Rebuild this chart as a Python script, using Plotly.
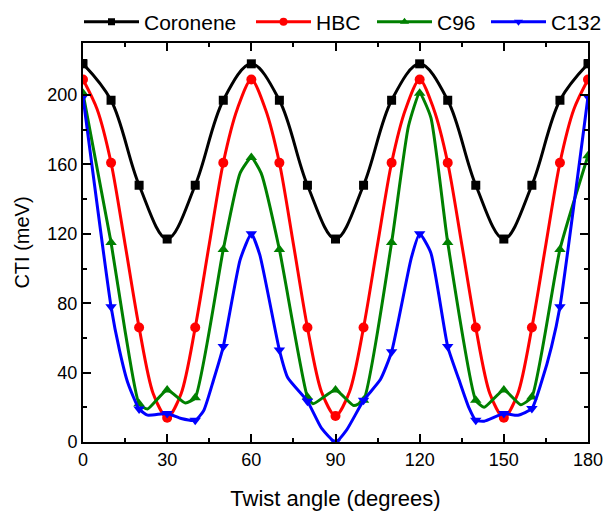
import plotly.graph_objects as go

# ---- data ----
cor_x = list(range(0, 181, 10))
cor_y = [218, 197, 148, 117, 148, 197, 218, 197, 148, 117, 148, 197, 218, 197, 148, 117, 148, 197, 218]

hbc_x = [0, 5, 10, 15, 20, 25, 30, 35, 40, 45, 50, 55, 60, 65, 70, 75, 80, 85, 90,
         95, 100, 105, 110, 115, 120, 125, 130, 135, 140, 145, 150, 155, 160, 165, 170, 175, 180]
hbc_y = [209, 192, 161, 114, 66, 28, 14, 28, 66, 114, 161, 192, 209, 192, 161, 114, 66, 29, 15,
         29, 66, 114, 161, 192, 209, 192, 161, 114, 66, 28, 14, 28, 66, 114, 161, 192, 209]

c96_x = [0, 10, 15, 20, 23, 30, 36.5, 40, 50, 56, 60, 63.5, 70, 80, 82, 90, 96.5, 100,
         110, 116, 120, 124, 130, 140, 143, 150, 156, 160, 170, 180]
c96_y = [201, 115, 64, 22, 19, 30, 22.5, 25.5, 111, 155, 164, 155, 111, 26, 22, 30, 21, 24,
         115, 182, 201, 187, 115, 24, 20, 30, 21.5, 26, 111, 165]

c132_x = [0, 10, 13, 16, 20, 23, 30, 35, 40, 43, 46.5, 50, 56, 60, 63, 70, 73, 80, 85, 90,
          94, 100, 106, 110, 117, 120, 124, 130, 134, 137.5, 140, 143, 150, 155, 160, 163.5, 167, 170, 180]
c132_y = [199, 78, 53, 34, 19, 15.5, 16.4, 13.5, 12.5, 18, 35.6, 55, 105, 120, 108, 53, 37, 23.5, 8, 0,
          7, 24, 36, 52, 106, 120, 109, 55, 36, 20, 12.5, 12, 16.4, 15.4, 19.3, 35, 55, 78, 199]

series = [
    ("Coronene", cor_x, cor_y, "black", "square", 9, 1.0),
    ("HBC", hbc_x, hbc_y, "#ff0000", "circle", 10, 0.8),
    ("C96", c96_x, c96_y, "#008000", "triangle-up", 10, 0.5),
    ("C132", c132_x, c132_y, "#0000ff", "triangle-down", 10, 0.5),
]
legend_ids = ["legend", "legend2", "legend3", "legend4"]
legend_xpx = [85, 257, 378, 492]  # pixel where each legend sample line starts

W, H = 605, 512
ML, MR, MT, MB = 83, 17, 43, 70
PW = W - ML - MR
PH = H - MT - MB

fig = go.Figure()
for (name, xs, ys, col, sym, ms, sm), lid in zip(series, legend_ids):
    fig.add_trace(go.Scatter(x=xs, y=ys, mode="lines", showlegend=False,
                             line=dict(color=col, width=3, shape="spline", smoothing=sm),
                             hoverinfo="skip"))
    mx = [x for x in xs if x % 10 == 0]
    my = [y for x, y in zip(xs, ys) if x % 10 == 0]
    fig.add_trace(go.Scatter(x=mx, y=my, mode="markers", showlegend=False,
                             marker=dict(color=col, symbol=sym, size=ms, line=dict(width=0))))
    fig.add_trace(go.Scatter(x=[None], y=[None], mode="lines+markers", name=name, legend=lid,
                             line=dict(color=col, width=3),
                             marker=dict(color=col, symbol=sym, size=ms - 2, line=dict(width=0))))

axis_common = dict(showline=True, linewidth=2, linecolor="black", mirror="allticks",
                   ticks="inside", ticklen=8, tickwidth=2, tickcolor="black",
                   showgrid=False, zeroline=False, automargin=False,
                   tickfont=dict(family="Liberation Sans, Arial", size=18, color="black"))

legend_y = 1 + (MT - 22) / PH
legends = {}
for lid, lx in zip(legend_ids, legend_xpx):
    legends[lid] = dict(orientation="h", x=(lx - 6 - ML) / PW, xanchor="left",
                        y=legend_y, yanchor="middle",
                        font=dict(size=21), itemwidth=55,
                        bgcolor="rgba(0,0,0,0)", borderwidth=0)

fig.update_layout(
    width=W, height=H,
    margin=dict(l=ML, r=MR, t=MT, b=MB, autoexpand=False),
    paper_bgcolor="white", plot_bgcolor="white",
    font=dict(family="Liberation Sans, Arial", color="black"),
    xaxis=dict(range=[0, 180], dtick=30, tick0=0,
               minor=dict(dtick=15, ticks="inside", ticklen=4, tickwidth=2, tickcolor="black"),
               title=dict(text="Twist angle (degrees)", font=dict(size=22), standoff=22),
               **axis_common),
    yaxis=dict(range=[0, 230], dtick=40, tick0=0,
               minor=dict(dtick=20, ticks="inside", ticklen=4, tickwidth=2, tickcolor="black"),
               title=dict(text="CTI (meV)", font=dict(size=20), standoff=12),
               **axis_common),
    **legends,
)

fig.write_html("out.html", config={"displayModeBar": False},
               post_script="document.body.style.margin='0';document.body.style.overflow='hidden';")
